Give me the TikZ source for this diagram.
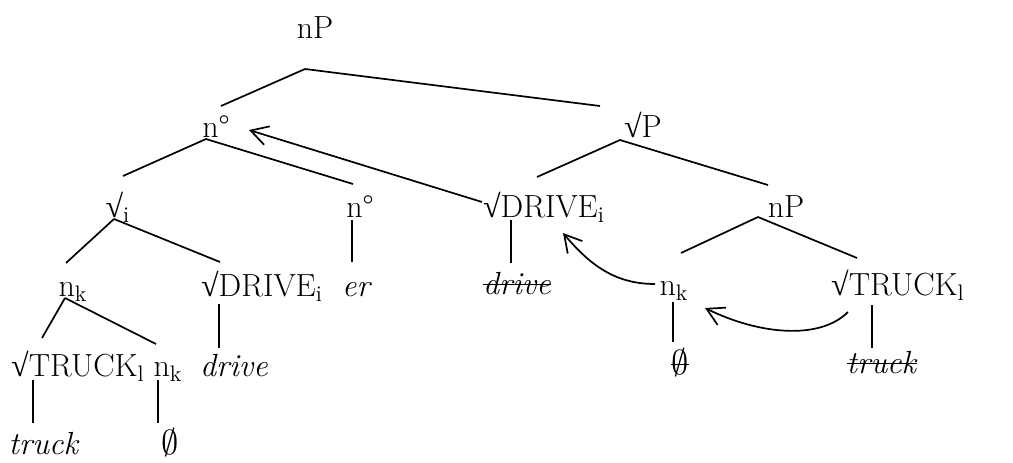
\documentclass[tikz,border=0pt]{standalone}
\usepackage{fontspec}
\usetikzlibrary{arrows.meta}
\newfontfamily\symfont{Liberation Serif}
\newcommand\rootsym{{\symfont √}}
\newcommand\nullsym{{\fontsize{19}{20}\selectfont$\emptyset$}}
\newsavebox\strkbox
\newcommand\strk[1]{\sbox\strkbox{#1}\rlap{\usebox\strkbox}\rule[0.65ex]{\wd\strkbox}{0.75pt}}

\begin{document}
\begin{tikzpicture}[x=0.5pt, y=-0.5pt,
    lbl/.style={anchor=base, inner sep=0pt, font=\fontsize{16}{19}\selectfont},
    br/.style={line width=0.85pt},
    mv/.style={line width=0.85pt, -{Straight Barb[length=8.5pt,width=9.6pt]}}
  ]
  \useasboundingbox (0,0) rectangle (1013,462);

  % Labels, row by row
  \node[lbl] (nPtop) at (315,38) {nP};

  \node[lbl] (nzA) at (216,137) {n°};
  \node[lbl] (rtP) at (643,137) {\rootsym P};

  \node[lbl] (rtI) at (118,217) {\rootsym\textsubscript{i}};
  \node[lbl] (nzB) at (360,217) {n°};
  \node[lbl] (drvA) at (544,217) {\rootsym DRIVE\textsubscript{i}};
  \node[lbl] (nPlow) at (786,217) {nP};

  \node[lbl] (nkA) at (73,296) {n\textsubscript{k}};
  \node[lbl] (drvB) at (262,296) {\rootsym DRIVE\textsubscript{i}};
  \node[lbl] (er) at (357,296) {\emph{er}};
  \node[lbl] (drvX) at (517,294) {\strk{\emph{drive}}};
  \node[lbl] (nkB) at (674,295) {n\textsubscript{k}};
  \node[lbl] (trkA) at (898,295) {\rootsym TRUCK\textsubscript{l}};

  \node[lbl] (trkB) at (78,376) {\rootsym TRUCK\textsubscript{l}};
  \node[lbl] (nkC) at (168,376) {n\textsubscript{k}};
  \node[lbl] (drive) at (234,376) {\emph{drive}};
  \node[lbl] (nullA) at (680,374) {\strk{\nullsym}};
  \node[lbl] (trkX) at (882,373) {\strk{\emph{truck}}};

  \node[lbl] (truck) at (44,454) {\emph{truck}};
  \node[lbl] (nullB) at (170,454) {\nullsym};

  % Branches
  \draw[br] ([shift={(-10,31)}]nPtop.base) -- ([shift={(5,-31)}]nzA.base);
  \draw[br] ([shift={(-10,31)}]nPtop.base) -- ([shift={(-43,-31)}]rtP.base);
  \draw[br] ([shift={(-10,2)}]nzA.base) -- ([shift={(5,-41)}]rtI.base);
  \draw[br] ([shift={(-10,2)}]nzA.base) -- ([shift={(-7,-33)}]nzB.base);
  \draw[br] ([shift={(-23,3)}]rtP.base) -- ([shift={(-7,-40)}]drvA.base);
  \draw[br] ([shift={(-23,3)}]rtP.base) -- ([shift={(-18,-32)}]nPlow.base);
  \draw[br] ([shift={(-4,2)}]rtI.base) -- ([shift={(-7,-33)}]nkA.base);
  \draw[br] ([shift={(-4,2)}]rtI.base) -- ([shift={(-42,-34)}]drvB.base);
  \draw[br] ([shift={(-8,3)}]nzB.base) -- ([shift={(-5,-34)}]er.base);
  \draw[br] ([shift={(-33,3)}]drvA.base) -- ([shift={(-6,-31)}]drvX.base);
  \draw[br] ([shift={(-28,0)}]nPlow.base) -- ([shift={(7,-42)}]nkB.base);
  \draw[br] ([shift={(-28,0)}]nPlow.base) -- ([shift={(-41,-37)}]trkA.base);
  \draw[br] ([shift={(-8,2)}]nkA.base) -- ([shift={(-36,-38)}]trkB.base);
  \draw[br] ([shift={(-8,2)}]nkA.base) -- ([shift={(-12,-32)}]nkC.base);
  \draw[br] ([shift={(-43,8)}]drvB.base) -- ([shift={(-15,-28)}]drive.base);
  \draw[br] ([shift={(-1,7)}]nkB.base) -- ([shift={(-7,-32)}]nullA.base);
  \draw[br] ([shift={(-26,10)}]trkA.base) -- ([shift={(-10,-25)}]trkX.base);
  \draw[br] ([shift={(-45,4)}]trkB.base) -- ([shift={(-11,-31)}]truck.base);
  \draw[br] ([shift={(-10,4)}]nkC.base) -- ([shift={(-12,-31)}]nullB.base);

  % Movement arrows
  \draw[mv] ([shift={(-62,-15)}]drvA.base) -- ([shift={(33,-7)}]nzA.base);
  \draw[mv] ([shift={(-19,-11)}]nkB.base) .. controls ([shift={(-59,-11)}]nkB.base) and ([shift={(46,48)}]drvA.base) .. ([shift={(19,16)}]drvA.base);
  \draw[mv] ([shift={(-50,17)}]trkA.base) .. controls ([shift={(-78,45)}]trkA.base) and ([shift={(86,40)}]nkB.base) .. ([shift={(31,13)}]nkB.base);
\end{tikzpicture}
\end{document}
